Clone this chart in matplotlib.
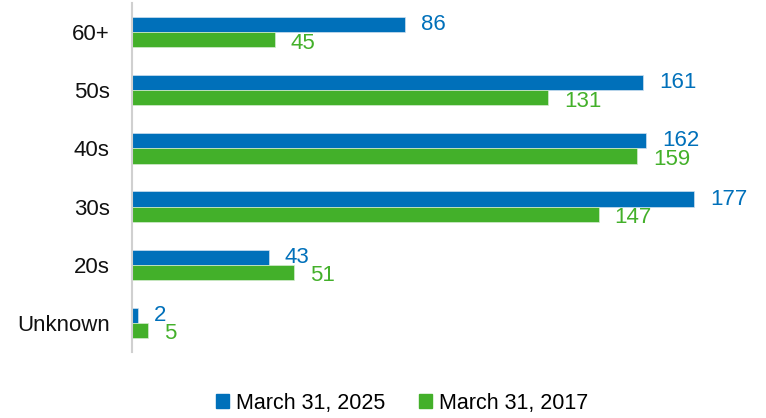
import numpy as np
import matplotlib
matplotlib.use("Agg")
import matplotlib.pyplot as plt
from matplotlib.patches import Patch

categories = ["60+", "50s", "40s", "30s", "20s", "Unknown"]
vals_2025 = [86, 161, 162, 177, 43, 2]
vals_2017 = [45, 131, 159, 147, 51, 5]
series_names = ["March 31, 2025", "March 31, 2017"]

BLUE = "#0070BA"
GREEN = "#43B02A"

plt.rcParams["font.family"] = ["Liberation Sans", "DejaVu Sans"]

fig = plt.figure(figsize=(7.66, 4.18), dpi=100)
ax = fig.add_axes([132 / 766, 1 - 352 / 418, 608 / 766, 349 / 418])

y = np.arange(len(categories))[::-1]
h = 0.26
ax.barh(y + h / 2, vals_2025, height=h, color=BLUE, edgecolor="#cfe0ef", linewidth=0.5)
ax.barh(y - h / 2, vals_2017, height=h, color=GREEN, edgecolor="#d5ecd0", linewidth=0.5)

for yi, v in zip(y, vals_2025):
    ax.annotate(str(v), (v, yi + h / 2), xytext=(11.5, 0), textcoords="offset points",
                va="center", ha="left", fontsize=16, color=BLUE)
for yi, v in zip(y, vals_2017):
    ax.annotate(str(v), (v, yi - h / 2), xytext=(11.5, -2.5), textcoords="offset points",
                va="center", ha="left", fontsize=16, color=GREEN)

ax.set_xlim(0, 608 / 3.175)
ax.set_ylim(-0.5, 5.5)
ax.set_yticks(y)
ax.set_yticklabels(categories, fontsize=16, color="#111111")
ax.tick_params(axis="y", length=0, pad=16)
ax.set_xticks([])
for s in ["top", "right", "bottom"]:
    ax.spines[s].set_visible(False)
ax.spines["left"].set_color("#d0d0d0")
ax.spines["left"].set_linewidth(1.5)

handles = [Patch(color=BLUE), Patch(color=GREEN)]
fig.legend(handles, series_names, loc="center", bbox_to_anchor=(402 / 766, 1 - 403 / 418),
           ncol=2, frameon=False, fontsize=15.5, handlelength=0.6, handleheight=0.6,
           handletextpad=0.3, columnspacing=1.6)

fig.savefig("out.png", dpi=100)
